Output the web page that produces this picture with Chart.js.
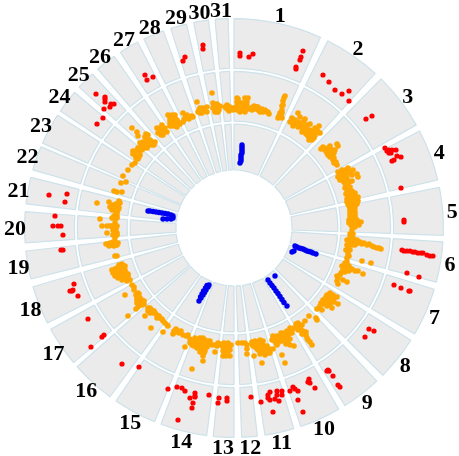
<!DOCTYPE html>
<html>
<head>
<meta charset="utf-8">
<script src="https://cdn.jsdelivr.net/npm/chart.js@4"></script>
<style>
html, body { margin: 0; padding: 0; background: #fff; }
canvas { display: block; }
</style>
</head>
<body>
<canvas id="chart" width="459" height="456"></canvas>
<script>
var categories = ['1','2','3','4','5','6','7','8','9','10','11','12','13','14','15','16','17','18','19','20','21','22','23','24','25','26','27','28','29','30','31'];

// sector start / end, degrees clockwise from the top
var sectorStart = [0,26.6,44.6,62.4,78.8,93.8,107,122.4,137,150,163.4,173.6,180,187.5,202.3,216.3,230,243,255.9,265.9,276.6,286.1,293.9,304,312.3,319.4,327.1,334.5,342.4,348.9,354.8];
var sectorEnd = [24.4,42.4,60.5,76.7,92,105,120.4,134.7,148,161.4,171.5,177.9,185.7,200.4,214.3,228.5,241.1,253.7,263.7,274.5,284,292.8,302.6,310.4,317.4,325.1,332.6,340.3,346.9,353,358.4];

var redPoints = [[6,175],[6,172],[15,171],[19,174],[69,177],[67,171],[66,168],[62,161],[62,159],[89,153],[95,146],[101,138],[108,134],[115,137],[115,127],[132,109],[138,112],
  [151,80],[153,77],[155,75],[158,78],[162,78],[163,72],[167,71],[160,68],[158,67],[155,78],[157,75],[167,40],[170,8],[170,6],
  [168,-22],[170,-23],[173,-23],[176,-23],[179,-24],[181,-24],[184,-25],[187,-25],[189,-25],[193,-27],[196,-28],[199,-28],
  [173,-45],[185,-49],[160,-57],[167,-60],[175,-63],[176,-63],[135,-101],[140,-103],[131,-109],
  [94,-142],[95,-143],[93,-143],[99,-148],[104,-157],[106,-159],[75,-151],[74,-154],[76,-155],[81,-160],
  [56,-163],[59,-159],[61,-161],[64,-163],[64,-172],[69,-184],[43,-163],[48,-163],[43,-167],[48,-167],[45,-173],[41,-171],[36,-164],[34,-167],[34,-170],[36,-172],[27,-174],[17,-169],[39,-184],
  [-171,-7],[-173,-22],[-171,-22],[-160,-56],[-164,-63],[-161,-62],[-162,-63],[-156,-68],[-146,-91],[-132,-109],[-130,-107],[-143,-119],[-112,-136],[-95,-139],
  [-66,-161],[-57,-159],[-52,-160],[-49,-163],[-44,-170],[-39,-165],[-39,-168],[-39,-169],[-41,-175],[-42,-180],[-56,-192],[-25,-167],[-15,-170],[-16,-175],[-7,-170],[-7,-173],
  [-31,183],[-31,179],[-49,171],[-51,167],[-89,153],[-81,151],[-87,148],[-138,134],[-129,131],[-129,129],[-129,126],[-120,124],[-123,124],[-124,121],[-130,119],[-131,110],[-137,104],
  [-185,33],[-167,34],[-169,26],[-179,12],[-181,2],[-176,2],[-173,2]];

var orangePoints = [[3,130],[4,129],[11,130],[14,130],[3,122],[6,121],[9,121],[13,122],[3,118],[8,118],[11,118],[14,119],[16,120],[20,122],[23,121],[24,118],[28,119],[29,116],[33,116],[35,114],[51,132],[49,127],[48,122],[48,118],[46,115],[44,110],[48,110],
  [5,126],[9,125],[13,126],[3,126],[6,116],[11,116],[18,118],[20,119],[24,121],[26,116],[31,118],[34,116],[12,125],[49,123],[47,112],[45,112],[48,115],[50,130],
  [64,115],[66,111],[58,110],[71,109],[56,106],[61,105],[64,106],[68,105],[76,104],[59,102],[64,101],[68,100],[71,101],[85,102],[81,100],[84,96],[68,96],[74,98],[76,95],[79,95],[74,92],[78,91],[81,93],[78,88],[86,95],
  [80,97],[83,98],[76,98],[72,94],[76,90],[80,90],[75,88],[71,97],[66,103],[62,104],[61,108],[65,103],[73,103],[70,107],
  [103,84],[96,82],[89,81],[87,79],[91,78],[94,80],[98,78],[93,75],[96,75],[100,75],[96,71],[99,68],[100,65],[103,63],
  [90,80],[92,77],[97,76],[94,73],[98,73],[99,71],[100,70],[102,66],[101,78],[104,82],
  [104,56],[108,56],[111,58],[114,60],[119,58],[123,54],[124,51],[104,51],[109,53],[114,55],[118,53],[108,48],[113,50],[111,45],[111,40],[114,38],[116,41],[121,35],[114,31],[118,31],[124,31],[113,29],[119,28],[123,29],
  [106,53],[110,50],[112,53],[116,56],[113,58],[108,58],[106,48],[110,46],[113,44],[112,42],[115,46],[118,47],[113,36],[116,33],[120,32],[112,34],[115,28],[117,26],[121,26],[124,27],[113,26],[118,37],
  [114,24],[118,23],[123,24],[116,20],[121,20],[116,15],[121,13],[118,10],[121,11],[119,4],[123,4],[127,6],[117,3],[118,-2],
  [115,22],[119,18],[116,12],[118,7],[123,8],[115,8],[116,18],[121,16],[115,5],[121,1],[118,2],[125,3],
  [116,-10],[119,-10],[123,-12],[116,-15],[119,-15],[124,-15],[128,-16],[133,-17],[138,-18],[143,-20],[147,-21],[114,-20],[114,-24],[115,-28],[113,-30],[118,-17],
  [113,-12],[115,-12],[121,-13],[126,-14],[130,-15],[135,-16],[140,-19],[145,-20],[121,-17],[113,-17],[112,-22],[114,-27],[116,-22],[118,-13],[116,-6],[119,-6],
  [113,-34],[111,-38],[109,-42],[113,-40],[118,-41],[121,-43],[124,-43],[129,-46],[109,-43],[104,-50],[103,-53],[104,-56],[109,-52],[113,-54],[128,-33],[137,-35],
  [111,-35],[115,-38],[108,-38],[110,-40],[116,-41],[107,-45],[106,-47],[111,-44],[115,-43],[103,-48],
  [96,-65],[93,-67],[99,-67],[103,-69],[89,-72],[94,-70],[98,-72],[104,-76],[86,-78],[91,-75],[96,-77],[93,-78],[98,-80],[83,-81],[88,-82],
  [96,-70],[91,-71],[87,-75],[94,-73],[100,-70],[100,-74],[89,-76],[85,-80],[96,-67],[92,-69],[98,-68],
  [75,-88],[71,-93],[82,-90],[83,-92],[64,-95],[68,-97],[63,-98],[66,-100],[64,-102],[69,-103],[68,-106],[72,-107],[74,-112],[78,-117],
  [65,-97],[62,-96],[67,-102],[70,-106],[72,-104],[66,-98],[73,-110],[76,-114],[65,-99],
  [58,-102],[53,-103],[54,-107],[48,-107],[51,-108],[39,-108],[43,-108],[46,-110],[38,-112],[41,-113],[44,-115],[51,-113],[54,-115],[56,-117],[43,-117],[60,-118],
  [41,-110],[44,-111],[47,-105],[50,-105],[56,-100],[60,-100],[56,-105],[53,-109],[50,-111],[46,-113],[42,-115],[56,-111],[48,-113],[52,-116],[58,-105],
  [18,-114],[21,-113],[26,-112],[29,-113],[19,-118],[24,-117],[29,-117],[24,-122],[29,-122],[34,-122],[26,-126],[31,-127],[36,-125],[48,-127],[39,-121],[51,-135],[28,-135],[20,-128],
  [21,-116],[27,-115],[24,-114],[22,-120],[27,-120],[32,-120],[27,-124],[31,-124],[34,-125],[18,-116],[36,-121],[29,-119],[33,-118],
  [4,-115],[8,-115],[11,-115],[13,-117],[13,-121],[13,-126],[-3,-117],[-4,-122],[-4,-128],
  [-10,-115],[-6,-115],[-7,-120],[-11,-123],[-6,-124],[-19,-117],[-16,-115],[-17,-118],[-19,-124],[-11,-128],
  [-8,-118],[-4,-118],[-13,-117],[-9,-125],[-14,-116],[-11,-119],[-8,-128],
  [-39,-110],[-34,-110],[-29,-112],[-24,-113],[-41,-115],[-36,-115],[-31,-115],[-26,-117],[-42,-117],[-37,-120],[-32,-120],[-27,-119],[-34,-124],[-29,-123],[-31,-128],[-31,-133],[-49,-119],[-42,-141],
  [-36,-112],[-31,-110],[-26,-113],[-39,-113],[-34,-113],[-29,-115],[-24,-116],[-37,-117],[-32,-118],[-29,-120],[-34,-121],[-36,-119],[-30,-125],[-22,-117],[-40,-118],[-44,-115],
  [-58,-101],[-56,-103],[-61,-106],[-51,-107],[-46,-107],[-44,-111],[-71,-104],[-55,-105],[-53,-103],[-58,-104],[-48,-108],[-60,-103],
  [-86,-80],[-82,-82],[-86,-83],[-81,-85],[-89,-88],[-77,-87],[-74,-90],[-71,-93],[-67,-97],[-66,-98],[-83,-100],
  [-84,-80],[-80,-83],[-75,-88],[-79,-85],[-72,-91],[-69,-95],[-84,-85],[-77,-90],
  [-102,-57],[-100,-62],[-96,-65],[-97,-70],[-94,-70],[-91,-75],[-97,-75],[-94,-77],[-98,-81],[-109,-67],[-106,-88],
  [-95,-66],[-98,-67],[-96,-72],[-93,-73],[-92,-72],[-95,-75],[-100,-59],[-97,-72],[-90,-73],[-96,-79],[-92,-77],[-90,-76],
  [-112,-36],[-109,-38],[-119,-41],[-114,-42],[-109,-42],[-121,-45],[-116,-45],[-111,-47],[-106,-48],[-119,-48],[-112,-52],[-107,-53],[-106,-50],
  [-117,-40],[-112,-39],[-110,-40],[-118,-44],[-113,-45],[-108,-45],[-119,-45],[-115,-48],[-110,-50],[-106,-46],[-104,-52],[-115,-37],[-116,-50],[-108,-50],[-122,-42],
  [-128,-16],[-124,-15],[-119,-14],[-116,-15],[-122,-17],[-117,-17],[-119,-28],[-117,-28],[-126,-16],[-121,-14],[-118,-17],[-125,-18],[-120,-18],
  [-127,-5],[-121,-2],[-117,-5],[-121,-7],[-117,-7],[-134,9],[-132,2],[-127,2],[-122,2],[-117,2],[-119,9],[-122,10],[-117,10],
  [-124,2],[-119,2],[-119,5],[-120,-4],[-118,-1],[-119,-10],[-117,12],[-120,12],
  [-137,25],[-125,26],[-115,27],[-121,23],[-116,22],[-119,18],[-116,18],[-117,15],[-124,21],[-118,24],[-120,20],[-122,18],[-115,20],[-118,16],[-114,25],
  [-120,37],[-117,36],[-112,36],[-113,45],[-108,46],[-111,52],[-106,58],[-102,63],
  [-101,77],[-97,78],[-92,80],[-87,80],[-82,83],[-79,86],[-86,86],[-91,86],[-89,91],[-86,93],[-94,85],[-99,73],[-94,73],[-96,69],[-99,65],[-102,100],[-97,96],[-96,92],
  [-99,76],[-95,77],[-92,78],[-89,83],[-85,83],[-82,86],[-84,88],[-87,88],[-92,83],[-96,80],[-98,70],[-95,71],[-101,74],[-90,80],[-80,83],[-88,94],
  [-77,100],[-74,96],[-71,93],[-69,100],[-67,96],[-76,95],[-72,103],[-71,98],[-74,100],[-72,100],[-75,98],[-69,97],[-71,95],[-73,93],
  [-66,113],[-62,113],[-59,113],[-64,108],[-59,110],[-64,105],[-59,105],[-56,106],[-61,102],[-57,101],[-64,111],[-61,107],[-57,108],[-62,105],[-61,110],[-64,102],[-58,103],[-54,104],[-55,104],
  [-51,115],[-47,113],[-49,110],[-44,111],[-41,111],[-51,106],[-48,112],[-45,109],[-50,108],[-42,112],
  [-37,126],[-34,120],[-31,120],[-36,116],[-32,115],[-27,121],[-27,116],[-35,118],[-33,118],[-30,117],[-34,115],
  [-22,135],[-21,125],[-17,124],[-21,120],[-16,120],[-19,116],[-16,116],[-20,123],[-18,121],[-19,118],[-15,118],[-14,122],[-17,116],
  [-7,123],[-4,121],[-7,119],[-6,121],[-9,121],[-5,117],[-2,120],[1,120],[-1,118]];

var bluePoints = [[8,83],[8,81],[8,79],[8,77],[8,75],[7,73],[7,71],[7,69],[7,67],[6,65],
  [61,-18],[63,-19],[65,-20],[67,-20.5],[69,-21],[71,-22],[73,-23],[75,-23.5],[77,-24],[79,-25],[82,-26],[58,-24],[60,-23],
  [41,-48],[34,-52],[36,-55],[38,-57.5],[40,-60],[42,-63],[44,-65.5],[46,-68.5],[48,-71.5],[50,-74.5],[53,-78],
  [-25,-57],[-26,-59],[-28,-62],[-29.5,-64.5],[-31,-67],[-33,-70],[-35,-73],[-27,-57.5],[-28.5,-60],[-30.5,-63],[-32,-66],[-33.5,-69],
  [-86,17],[-84,17],[-81,16.5],[-78,16],[-75,15.5],[-72,15],[-69,14.5],[-66,14],[-63,13],[-61,12],[-71,9],[-67,9],[-63,9],[-61,10]];

function toXY(list) {
    return list.map(function(p) { return {x: p[0], y: p[1]}; });
}

// slice sizes: every sector followed by the gap up to the next one
var sliceSizes = [];
var sliceFill = [];
var sliceLine = [];
for (var i = 0; i < sectorStart.length; i++) {
    var next = i + 1 < sectorStart.length ? sectorStart[i + 1] : 360;
    sliceSizes.push(sectorEnd[i] - sectorStart[i], next - sectorEnd[i]);
    sliceFill.push('#ebebeb', 'rgba(0,0,0,0)');
    sliceLine.push('#cde2ea', 'rgba(0,0,0,0)');
}

function track(weight) {
    return {type: 'doughnut', data: sliceSizes, backgroundColor: sliceFill, borderColor: sliceLine,
        borderWidth: 1.2, weight: weight, cutout: 58, order: 5};
}
function spacer(weight) {
    return {type: 'doughnut', data: [1], backgroundColor: 'rgba(0,0,0,0)', borderWidth: 0, weight: weight, cutout: 58, order: 5};
}
function dots(list, color, size, order) {
    return {type: 'scatter', data: toXY(list), backgroundColor: color, borderColor: color, borderWidth: 0,
        pointRadius: size, weight: 0, order: order, clip: false};
}

var numberLabels = {
    id: 'numberLabels',
    afterDatasetsDraw: function(chart) {
        var ctx = chart.ctx;
        ctx.save();
        ctx.font = 'bold 22px "Liberation Serif"';
        ctx.fillStyle = '#000';
        ctx.textAlign = 'center';
        ctx.textBaseline = 'middle';
        for (var i = 0; i < categories.length; i++) {
            var a = (sectorStart[i] + sectorEnd[i]) / 2 * Math.PI / 180;
            ctx.fillText(categories[i],
                chart.scales.x.getPixelForValue(219 * Math.sin(a)),
                chart.scales.y.getPixelForValue(219 * Math.cos(a)) + 2);
        }
        ctx.restore();
    }
};

new Chart(document.getElementById('chart'), {
    type: 'scatter',
    data: {
        datasets: [
            track(50), spacer(3), track(50), spacer(3), track(46),
            dots(redPoints, '#ff0000', 2.6, 1),
            dots(orangePoints, '#ffa500', 2.8, 2),
            dots(bluePoints, '#0000f0', 2.7, 1)
        ]
    },
    options: {
        responsive: false,
        animation: false,
        layout: {padding: {left: 24, right: 15, top: 18, bottom: 18}},
        plugins: {legend: {display: false}, tooltip: {enabled: false}},
        scales: {
            x: {type: 'linear', min: -210, max: 210, display: false},
            y: {type: 'linear', min: -210, max: 210, display: false}
        }
    },
    plugins: [numberLabels]
});
</script>
</body>
</html>
